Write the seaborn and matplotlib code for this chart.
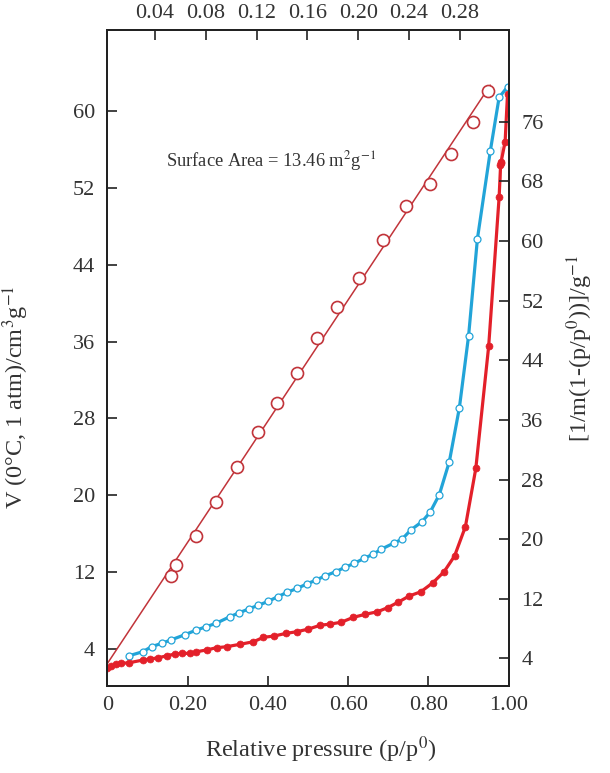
import numpy as np
import matplotlib
matplotlib.use('Agg')
import matplotlib.pyplot as plt
import seaborn as sns

sns.set_style('ticks')
plt.rcParams['font.family'] = ['Liberation Serif', 'DejaVu Serif']
plt.rcParams['mathtext.fontset'] = 'stix'

# 吸附支 (蓝色空心圈) - 相对压力 / 吸附量
ads_p = [0.054, 0.088, 0.110, 0.135, 0.158, 0.193, 0.220, 0.246, 0.271, 0.305,
         0.329, 0.353, 0.376, 0.401, 0.424, 0.448, 0.473, 0.497, 0.520, 0.542,
         0.569, 0.592, 0.615, 0.640, 0.663, 0.682, 0.714, 0.734, 0.756, 0.784,
         0.804, 0.827, 0.852, 0.877, 0.900, 0.922, 0.954, 0.976, 0.997]
ads_v = [3.30, 3.72, 4.24, 4.59, 4.94, 5.49, 5.95, 6.32, 6.68, 7.36,
         7.78, 8.19, 8.55, 8.97, 9.44, 9.90, 10.32, 10.77, 11.18, 11.60,
         12.05, 12.50, 12.92, 13.44, 13.89, 14.38, 15.03, 15.42, 16.39, 17.25,
         18.23, 20.06, 23.5, 29.1, 36.6, 46.7, 55.8, 61.4, 62.5]

# 脱附支 (红色实心点)
des_p = [0.000, 0.008, 0.021, 0.035, 0.054, 0.088, 0.106, 0.127, 0.148, 0.168,
         0.185, 0.206, 0.222, 0.247, 0.272, 0.297, 0.330, 0.364, 0.389, 0.415,
         0.445, 0.472, 0.501, 0.530, 0.555, 0.582, 0.613, 0.642, 0.673, 0.698,
         0.724, 0.752, 0.781, 0.811, 0.839, 0.865, 0.892, 0.918, 0.950, 0.976,
         0.980, 0.979, 0.981, 0.979, 0.980, 0.991, 0.997]
des_v = [2.00, 2.20, 2.41, 2.51, 2.57, 2.85, 2.96, 3.09, 3.30, 3.48,
         3.55, 3.55, 3.72, 3.90, 4.14, 4.24, 4.49, 4.76, 5.22, 5.35,
         5.63, 5.80, 6.08, 6.47, 6.60, 6.78, 7.30, 7.61, 7.88, 8.30,
         8.86, 9.52, 9.96, 10.90, 12.05, 13.68, 16.73, 22.8, 35.5, 51.0,
         52.9, 53.2, 54.7, 55.5, 56.3, 56.8, 61.8]

# BET 直线 (上轴 / 右轴)
bet_p = [0.0525, 0.0565, 0.0720, 0.0880, 0.1043, 0.1213, 0.1357, 0.1520, 0.1677,
         0.1834, 0.2007, 0.2196, 0.2375, 0.2564, 0.2729, 0.2900, 0.3020]
bet_y = [15.1, 16.5, 20.4, 25.0, 29.7, 34.4, 38.3, 42.3, 47.0,
         51.1, 55.1, 60.2, 64.7, 67.6, 71.7, 76.0, 80.2]

blue = '#22a4d8'
red = '#e3202a'
dark_red = '#c1343a'

fig = plt.figure(figsize=(6.1, 7.73), dpi=100)
ax = fig.add_axes([0.176, 0.1125, 0.658, 0.8485])
ax2 = ax.twinx()
ax3 = ax2.twiny()

sns.lineplot(x=ads_p, y=ads_v, sort=False, ax=ax, color=blue, lw=2.3,
             marker='o', markersize=5, markerfacecolor='white',
             markeredgecolor=blue, markeredgewidth=0.9)
sns.lineplot(x=des_p, y=des_v, sort=False, ax=ax, color=red, lw=2.3,
             marker='o', markersize=5, markerfacecolor=red,
             markeredgecolor=red, markeredgewidth=0.5)

# 线性拟合
k, b = np.polyfit(bet_p, bet_y, 1)
xx = np.array([0, 0.304])
ax3.plot(xx, k * xx + b, color=dark_red, lw=1.1)
sns.scatterplot(x=bet_p, y=bet_y, ax=ax3, s=75, facecolor='white',
                edgecolor=dark_red, linewidth=1.2, zorder=3)

ax.set_xlim(0, 1.0)
ax.set_ylim(0.15, 68.4)
ax2.set_ylim(0.3, 88.3)
ax3.set_xlim(0.0024, 0.3185)

ax.set_xticks([0, 0.2, 0.4, 0.6, 0.8, 1.0])
ax.set_xticklabels(['0', '0.20', '0.40', '0.60', '0.80', '1.00'])
ax.set_yticks(np.arange(4, 61, 8))
ax2.set_yticks(np.arange(4, 77, 8))
ax3.set_xticks([0.04, 0.08, 0.12, 0.16, 0.20, 0.24, 0.28])
ax3.set_xticklabels(['0.04', '0.08', '0.12', '0.16', '0.20', '0.24', '0.28'])

for a in (ax, ax2, ax3):
    a.tick_params(direction='in', length=7, width=1.2, labelsize=16,
                  colors='#222222', labelcolor='#333333')
    for s in a.spines.values():
        s.set_linewidth(1.4)
        s.set_color('#222222')
ax.tick_params(axis='y', pad=9)
ax.tick_params(axis='x', pad=7)
ax2.tick_params(axis='y', pad=9)
ax3.tick_params(axis='x', pad=5)

ax.set_xlabel(r'Relative pressure (p/p$^0$)', fontsize=17.5, color='#333333')
ax.xaxis.set_label_coords(0.532, -0.074)
ax.set_ylabel(r'V (0°C, 1 atm)/cm$^3$g$^{-1}$', fontsize=17.5, color='#333333')
ax.yaxis.set_label_coords(-0.19, 0.44)
ax2.set_ylabel(r'[1/m(1-(p/p$^0$))]/g$^{-1}$', fontsize=17.5, color='#333333')
ax2.yaxis.set_label_coords(1.138, 0.515)
ax3.set_xlabel('')
ax3.set_ylabel('')

ax.text(0.146, 0.80, r'Surface Area = 13.46 m$^2$g$^{-1}$', transform=ax.transAxes,
        fontsize=13.3, ha='left', va='center', color='#333333')

fig.savefig('out.png', dpi=100)
